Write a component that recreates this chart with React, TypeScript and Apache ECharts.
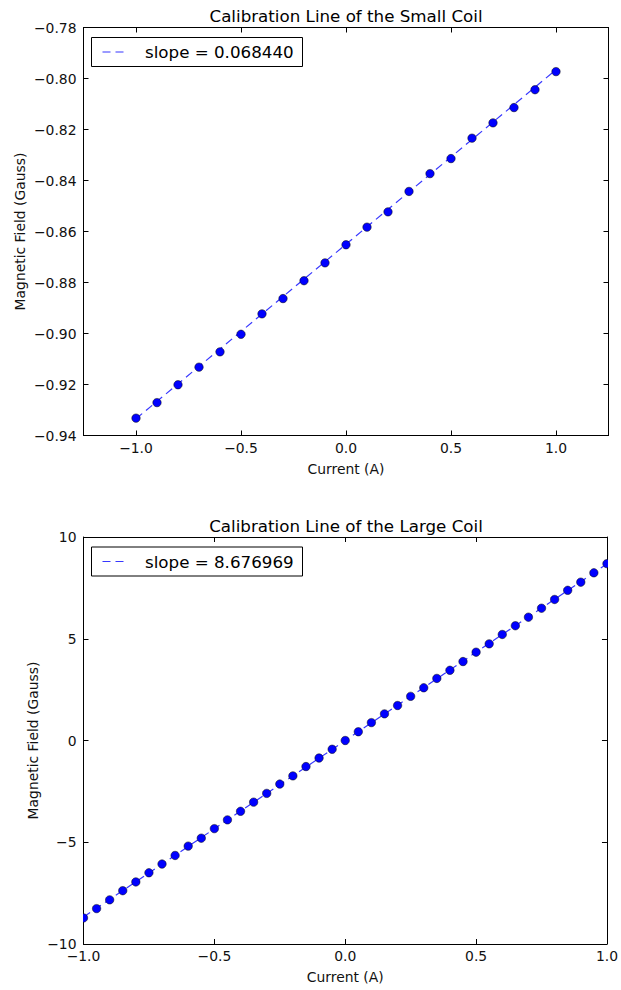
import React, { useEffect, useRef } from "react";
import * as echarts from "echarts";

const FONT = "DejaVu Sans";

// ---- Small coil ----
const currentSmall = [-1.0, -0.9, -0.8, -0.7, -0.6, -0.5, -0.4, -0.3, -0.2, -0.1, 0.0, 0.1, 0.2, 0.3, 0.4, 0.5, 0.6, 0.7, 0.8, 0.9, 1.0];
const fieldSmall = [-0.9332, -0.9271, -0.9201, -0.9132, -0.9072, -0.9003, -0.8923, -0.8863, -0.8793, -0.8723, -0.8652, -0.8583, -0.8523, -0.8443, -0.8373, -0.8314, -0.8234, -0.8174, -0.8114, -0.8044, -0.7973];
const slopeSmall = 0.06844;
const fitSmallX = [-1.0, 1.0];
const fitSmallY = [-0.93344, -0.79656];

// ---- Large coil ----
const currentLarge = [-1.0, -0.95, -0.9, -0.85, -0.8, -0.75, -0.7, -0.65, -0.6, -0.55, -0.5, -0.45, -0.4, -0.35, -0.3, -0.25, -0.2, -0.15, -0.1, -0.05, 0.0, 0.05, 0.1, 0.15, 0.2, 0.25, 0.3, 0.35, 0.4, 0.45, 0.5, 0.55, 0.6, 0.65, 0.7, 0.75, 0.8, 0.85, 0.9, 0.95, 1.0];
const fieldLarge = [-8.72, -8.26, -7.83, -7.38, -6.95, -6.5, -6.07, -5.65, -5.19, -4.8, -4.33, -3.9, -3.48, -3.03, -2.6, -2.14, -1.74, -1.28, -0.86, -0.43, 0.0, 0.43, 0.88, 1.31, 1.72, 2.17, 2.59, 3.05, 3.45, 3.88, 4.34, 4.75, 5.21, 5.64, 6.06, 6.5, 6.93, 7.38, 7.78, 8.24, 8.69];
const slopeLarge = 8.676969;
const fitLargeX = [-1.0, 1.0];
const fitLargeY = [-8.677, 8.677];

// ---- Ticks ----
const xTicksSmall = [-1.0, -0.5, 0.0, 0.5, 1.0];
const xTicksLarge = [-1.0, -0.5, 0.0, 0.5, 1.0];

const titles = ["Calibration Line of the Small Coil", "Calibration Line of the Large Coil"];
const xName = "Current (A)";
const yName = "Magnetic Field (Gauss)";

const minus = (s: string) => s.replace("-", "\u2212");

export default function App() {
  const ref = useRef<HTMLDivElement>(null);

  useEffect(() => {
    if (!ref.current) return;
    const chart = echarts.init(ref.current, null, { renderer: "svg" });

    const grids = [
      { left: 83.5, top: 27.5, width: 525, height: 408 },
      { left: 83.5, top: 537, width: 525, height: 407 },
    ];

    const lineColor = "rgba(20,20,255,0.85)";
    const dash = [8, 5];

    const frameAxisLine = { show: true, onZero: false, lineStyle: { color: "#000", width: 1 } };
    const tick = { show: true, inside: true, length: 5, lineStyle: { color: "#000", width: 1 } };
    const labelStyle = { fontFamily: FONT, fontSize: 13.9, color: "#111" };
    const nameStyle = { fontFamily: FONT, fontSize: 13.9, color: "#111" };

    const xAxes: any[] = [];
    const yAxes: any[] = [];
    const configs = [
      { xMin: -1.25, xMax: 1.25, xTicks: xTicksSmall, yMin: -0.94, yMax: -0.78, yInt: 0.02, yDec: 2, yGap: 56.5 },
      { xMin: -1.0, xMax: 1.0, xTicks: xTicksLarge, yMin: -10, yMax: 10, yInt: 5, yDec: 0, yGap: 43.5 },
    ];
    configs.forEach((c, i) => {
      xAxes.push({
        type: "value", gridIndex: i, position: "bottom", min: c.xMin, max: c.xMax,
        axisLine: frameAxisLine,
        axisTick: { ...tick, customValues: c.xTicks },
        axisLabel: { ...labelStyle, margin: 5, customValues: c.xTicks, formatter: (v: number) => minus(v.toFixed(1)) },
        splitLine: { show: false },
        name: xName, nameLocation: "middle", nameGap: 26, nameMoveOverlap: false, nameTextStyle: nameStyle,
      });
      xAxes.push({
        type: "value", gridIndex: i, position: "top", min: c.xMin, max: c.xMax,
        axisLine: frameAxisLine,
        axisTick: { ...tick, customValues: c.xTicks },
        axisLabel: { show: false, customValues: c.xTicks },
        splitLine: { show: false },
      });
      yAxes.push({
        type: "value", gridIndex: i, position: "left", min: c.yMin, max: c.yMax, interval: c.yInt,
        axisLine: frameAxisLine,
        axisTick: tick,
        axisLabel: { ...labelStyle, margin: 7, formatter: (v: number) => minus(v.toFixed(c.yDec)) },
        splitLine: { show: false },
        name: yName, nameLocation: "middle", nameGap: c.yGap, nameRotate: 90, nameMoveOverlap: false, nameTextStyle: nameStyle,
      });
      yAxes.push({
        type: "value", gridIndex: i, position: "right", min: c.yMin, max: c.yMax, interval: c.yInt,
        axisLine: frameAxisLine,
        axisTick: tick,
        axisLabel: { show: false },
        splitLine: { show: false },
      });
    });

    const fitSmall = fitSmallX.map((x, k) => [x, fitSmallY[k]]);
    const fitLarge = fitLargeX.map((x, k) => [x, fitLargeY[k]]);
    const ptsSmall = currentSmall.map((x, k) => [x, fieldSmall[k]]);
    const ptsLarge = currentLarge.map((x, k) => [x, fieldLarge[k]]);

    const dotRender = (params: any, api: any) => {
      const p = api.coord([api.value(0), api.value(1)]);
      return {
        type: "circle",
        shape: { cx: p[0], cy: p[1], r: 4.2 },
        style: { fill: "#0000ff", stroke: "#000", lineWidth: 0.5 },
      };
    };

    const legendGraphic = (top: number, text: string) => ({
      type: "group",
      z: 100,
      children: [
        { type: "rect", shape: { x: 91.5, y: top, width: 211, height: 29 }, style: { fill: "#fff", stroke: "#000", lineWidth: 1 } },
        { type: "line", shape: { x1: 102.5, y1: top + 14.5, x2: 125, y2: top + 14.5 }, style: { stroke: lineColor, lineWidth: 1.2, lineDash: dash } },
        { type: "text", x: 145, y: top + 14.5, style: { text, fontFamily: FONT, fontSize: 16.7, fill: "#000", align: "left", verticalAlign: "middle" } },
      ],
    });

    const titleGraphic = (y: number, text: string) => ({
      type: "text", x: 346, y, z: 100,
      style: { text, fontFamily: FONT, fontSize: 16.7, fill: "#000", align: "center", verticalAlign: "middle" },
    });

    chart.setOption({
      animation: false,
      backgroundColor: "#fff",
      grid: grids,
      xAxis: xAxes,
      yAxis: yAxes,
      series: [
        {
          type: "line", name: "fit small", xAxisIndex: 0, yAxisIndex: 0, data: fitSmall,
          showSymbol: false, symbol: "none", lineStyle: { color: lineColor, width: 1.2, type: dash }, z: 2,
        },
        {
          type: "scatter", name: "data small", xAxisIndex: 0, yAxisIndex: 0, data: ptsSmall,
          symbol: "circle", symbolSize: 8.4, itemStyle: { color: "#0000ff", borderColor: "#000", borderWidth: 0.5, opacity: 1 }, z: 3,
        },
        {
          type: "line", name: "fit large", xAxisIndex: 2, yAxisIndex: 2, data: fitLarge,
          showSymbol: false, symbol: "none", lineStyle: { color: lineColor, width: 1.2, type: dash }, z: 2, clip: true,
        },
        {
          type: "custom", name: "data large", xAxisIndex: 2, yAxisIndex: 2, data: ptsLarge,
          renderItem: dotRender, encode: { x: 0, y: 1 }, clip: true, z: 3,
        },
      ],
      graphic: [
        titleGraphic(16, titles[0]),
        titleGraphic(526, titles[1]),
        legendGraphic(37.5, "slope = " + slopeSmall.toFixed(6)),
        legendGraphic(547, "slope = " + slopeLarge.toFixed(6)),
      ],
    });

    return () => chart.dispose();
  }, []);

  return <div ref={ref} style={{ position: "absolute", left: 0, top: 0, width: 621, height: 990 }} />;
}
